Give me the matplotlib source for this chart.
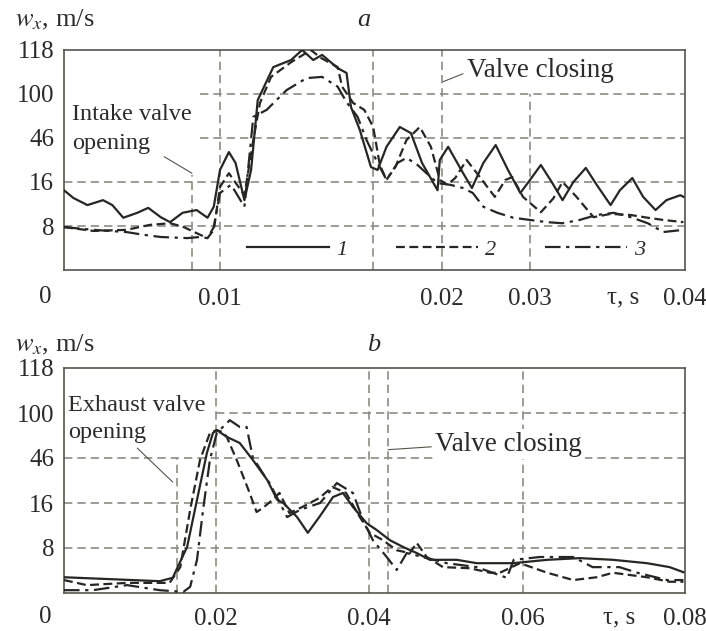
import matplotlib
matplotlib.use('Agg')
import matplotlib.pyplot as plt
from matplotlib.ticker import NullLocator
import numpy as np

plt.rcParams.update({
    'font.family': ['Liberation Serif', 'DejaVu Serif'],
    'mathtext.fontset': 'stix',
    'text.color': '#2b2b2b',
    'xtick.color': '#2b2b2b',
    'ytick.color': '#2b2b2b',
})

# axis ticks (the original uses a non-uniform graduation)
w_ticks = [0, 8, 16, 46, 100, 118]
t_ticks_a = [0, 0.01, 0.02, 0.03, 0.04]
t_ticks_b = [0, 0.02, 0.04, 0.06, 0.08]

# ---- panel a: intake ----
t_a1 = [0, 0.0006, 0.0015, 0.0025, 0.0031, 0.0038, 0.0047, 0.0054, 0.0062, 0.0068, 0.0076, 0.0085,
        0.0092, 0.0096, 0.01, 0.0104, 0.0107, 0.0111, 0.0114, 0.0117, 0.0124, 0.0132, 0.0137, 0.0142,
        0.0146, 0.0153, 0.0157, 0.0159, 0.0163, 0.0168, 0.0171, 0.0175, 0.0181, 0.0186, 0.0191, 0.0198,
        0.0199, 0.0207, 0.0224, 0.0234, 0.0247, 0.0261, 0.0275, 0.0289, 0.03, 0.0307, 0.0314, 0.0321,
        0.0328, 0.0336, 0.0343, 0.0352, 0.0358, 0.0366, 0.0373, 0.0381, 0.0388, 0.0397, 0.0399]
w_a1 = [14.5, 13.1, 11.8, 12.7, 11.8, 9.5, 10.4, 11.3, 9.6, 8.7, 10.4, 10.9,
        9.5, 11.5, 24.2, 36.4, 29, 12.7, 24.2, 92.5, 111, 113.9, 118, 113.9,
        116, 110.6, 108.6, 84, 55.7, 26.2, 24.2, 40, 59.5, 52, 29, 14.5,
        31, 40, 22, 14.9, 29, 41.2, 24.2, 14, 17.4, 27.6, 16, 12.7,
        16, 25.6, 15.5, 11.8, 14.5, 18.7, 13.3, 10.9, 12.7, 13.6, 13.3]

t_a2 = [0, 0.0019, 0.004, 0.0055, 0.0068, 0.0076, 0.0085, 0.0092, 0.0096, 0.01, 0.0104, 0.0111,
        0.0115, 0.0118, 0.0123, 0.0132, 0.0141, 0.0145, 0.0153, 0.0155, 0.016, 0.0165, 0.0169, 0.0172,
        0.0175, 0.0179, 0.0184, 0.019, 0.0195, 0.0199, 0.0206, 0.0215, 0.0228, 0.0243, 0.026, 0.0272,
        0.028, 0.0292, 0.0307, 0.0315, 0.0321, 0.033, 0.0341, 0.0352, 0.0365, 0.0376, 0.0386, 0.0399]
w_a2 = [7.8, 7.1, 7.3, 8.2, 8.5, 7.9, 6.7, 5.8, 7.3, 15.1, 22, 13.6,
        44.6, 89, 107, 113, 118, 115, 111, 103, 89, 80.5, 59.5, 27.6,
        17.5, 26.2, 44.6, 59.5, 40, 17.5, 15.5, 18.7, 31, 19.4, 13.3, 17.4,
        19.4, 13.3, 10.5, 13, 16, 13.3, 9.6, 10.2, 10, 9.5, 9.1, 8.7]

t_a3 = [0, 0.0019, 0.004, 0.0051, 0.0062, 0.0079, 0.0087, 0.0092, 0.0096, 0.01, 0.0105, 0.0111,
        0.0115, 0.0121, 0.013, 0.0139, 0.0146, 0.0153, 0.0157, 0.0162, 0.0166, 0.0171, 0.0175, 0.018,
        0.0184, 0.0189, 0.0193, 0.0198, 0.0209, 0.0224, 0.0235, 0.0247, 0.0263, 0.0281, 0.03, 0.0311,
        0.0321, 0.0332, 0.0343, 0.0354, 0.0365, 0.0376, 0.0386, 0.0399]
w_a3 = [7.8, 7.3, 6.9, 6.4, 6.0, 5.8, 6.0, 5.8, 7.8, 14, 15.5, 11.5,
        71.9, 80.5, 101.6, 106.5, 107, 103, 90, 71.9, 44.6, 29, 17.5, 29,
        32.5, 27.6, 22, 15.8, 15.5, 14.9, 14.0, 11.5, 10.4, 9.5, 9.1, 8.7,
        8.5, 9.1, 10, 10.4, 9.6, 8.5, 6.9, 7.3]

# ---- panel b: exhaust ----
t_b1 = [0, 0.0126, 0.0143, 0.0162, 0.0175, 0.0188, 0.0196, 0.0201, 0.0214, 0.0231, 0.0248, 0.0267,
        0.028, 0.0288, 0.0306, 0.032, 0.0335, 0.0353, 0.0366, 0.0379, 0.0397, 0.041, 0.0427, 0.0444,
        0.0462, 0.0479, 0.0514, 0.054, 0.0587, 0.063, 0.067, 0.0711, 0.0753, 0.0781, 0.0798]
w_b1 = [2.8, 2.1, 2.7, 8.2, 18.1, 52, 76, 79.5, 71.4, 64, 44.8, 31.3,
        18.1, 16, 13.5, 10.7, 13.5, 20, 22.7, 15.3, 12.4, 11.2, 9.4, 8.2,
        7.1, 5.9, 5.9, 5.3, 5.3, 5.9, 6.2, 5.9, 5.3, 4.6, 3.7]

t_b2 = [0, 0.003, 0.0083, 0.0139, 0.0153, 0.0166, 0.0179, 0.0192, 0.0201, 0.0209, 0.0214, 0.0227,
        0.0244, 0.0253, 0.0261, 0.0274, 0.0283, 0.0296, 0.0313, 0.0335, 0.0352, 0.037, 0.0388, 0.0401,
        0.0418, 0.0436, 0.0453, 0.0462, 0.0475, 0.0496, 0.0531, 0.0557, 0.057, 0.0596, 0.063, 0.0662,
        0.0691, 0.0711, 0.0753, 0.0781, 0.0798]
w_b2 = [2.3, 1.4, 1.8, 1.8, 4.6, 14.8, 44.8, 76, 79.5, 77, 71.4, 44.8,
        22.7, 14.4, 15.1, 18.1, 22.7, 14.2, 15.3, 19.3, 26.7, 22.7, 13.5, 10.7,
        9.4, 7.6, 7.1, 8.9, 6.4, 4.6, 4.4, 3.6, 3.6, 5.3, 3.6, 2.3,
        2.8, 3.6, 2.8, 2.0, 2.0]

t_b3 = [0, 0.0038, 0.0083, 0.0126, 0.0157, 0.0166, 0.0175, 0.0183, 0.0192, 0.0201, 0.0218, 0.0231,
        0.024, 0.0248, 0.0261, 0.027, 0.0293, 0.031, 0.0336, 0.0358, 0.0379, 0.0392, 0.0405, 0.0423,
        0.0436, 0.0449, 0.047, 0.0501, 0.054, 0.0579, 0.0588, 0.0621, 0.0662, 0.0686, 0.0719, 0.0741,
        0.0778, 0.0798]
w_b3 = [0.5, 0.5, 1.4, 0.5, 0.2, 1.1, 5.9, 14.8, 44.8, 76, 91.4, 83.3,
        83.3, 47, 36, 29.3, 13.5, 14.8, 16, 29.3, 22.7, 13, 9.4, 6.4,
        4.1, 7.1, 6.4, 5.3, 4.6, 2.7, 5.9, 6.4, 6.4, 4.6, 4.6, 3.6,
        2.3, 2.3]

series_labels = ['1', '2', '3']


def piecewise(ticks, pos):
    def fwd(v):
        return np.interp(np.asarray(v, dtype=float), ticks, pos)

    def inv(p):
        return np.interp(np.asarray(p, dtype=float), pos, ticks)
    return fwd, inv


LINE = '#262622'
GRID = '#8c8c84'
styles = [dict(ls='-'), dict(ls=(0, (4, 2))), dict(ls=(0, (7, 2.5, 1.5, 2.5)))]
grid_kw = dict(colors=GRID, linestyles=(0, (5, 3)), linewidth=1.2, zorder=1)


def setup(ax, t_ticks, t_pos, tpad):
    ax.set_xscale('function', functions=piecewise(t_ticks, t_pos))
    ax.set_yscale('function', functions=piecewise(w_ticks, [0, 1, 2, 3, 4, 5]))
    ax.set_xlim(t_ticks[0], t_ticks[-1])
    ax.set_ylim(w_ticks[0], w_ticks[-1])
    ax.set_xticks(t_ticks[1:])
    ax.set_xticklabels([f'{v:g}' for v in t_ticks[1:]])
    ax.set_yticks(w_ticks[1:])
    ax.set_yticklabels([str(v) for v in w_ticks[1:]])
    ax.xaxis.set_minor_locator(NullLocator())
    ax.yaxis.set_minor_locator(NullLocator())
    ax.tick_params(axis='x', length=0, pad=tpad, labelsize=18)
    ax.tick_params(axis='y', length=0, pad=7, labelsize=18)
    for s in ax.spines.values():
        s.set_color('#55554f')
        s.set_linewidth(1.2)


fig = plt.figure(figsize=(7.06, 6.31), dpi=100)
W, H = 706, 631


def px_axes(l, t, r, b):
    return fig.add_axes([l / W, 1 - b / H, (r - l) / W, (b - t) / H])


# ================= panel a =================
ax1 = px_axes(64, 50, 685, 270)
setup(ax1, t_ticks_a, [0, 156, 378, 466, 621], 13)

ax1.hlines([100, 46], 0.0087, 0.04, **grid_kw)
ax1.hlines([16, 8], 0, 0.04, **grid_kw)
ax1.vlines(0.0082, 0, 21, **grid_kw)
ax1.vlines([0.01, 0.0169, 0.02], 0, 118, **grid_kw)
ax1.vlines(0.03, 0, 100, **grid_kw)

for t, w, st, lab in zip([t_a1, t_a2, t_a3], [w_a1, w_a2, w_a3], styles, series_labels):
    ax1.plot(t, w, color=LINE, lw=1.6, label=lab, zorder=3, solid_joinstyle='round', **st)

leg = ax1.legend(loc='center left', bbox_to_anchor=(0.295, 0.091), ncol=3, frameon=False,
                 handlelength=3.7, handletextpad=0.3, columnspacing=2.2, borderpad=0,
                 borderaxespad=0, prop={'family': 'Liberation Serif', 'style': 'italic', 'size': 16})

ax1.annotate('Intake valve\nopening', xy=(0.0082, 22), xytext=(0.013, 0.755),
             textcoords='axes fraction', ha='left', va='top', fontsize=17.5, linespacing=1.5,
             arrowprops=dict(arrowstyle='-', color='#55554f', lw=0.8, relpos=(0.66, 0.1),
                             shrinkA=0, shrinkB=0))
ax1.annotate('Valve closing', xy=(0.0201, 105), xytext=(0.649, 0.905),
             textcoords='axes fraction', ha='left', va='center', fontsize=19.5,
             arrowprops=dict(arrowstyle='-', color='#55554f', lw=0.8, relpos=(0, 0.45),
                             shrinkA=1, shrinkB=0))
ax1.text(0.874, -0.123, 'τ, s', transform=ax1.transAxes, ha='left', va='center', fontsize=18)

# ================= panel b =================
ax2 = px_axes(64, 368, 685, 593)
setup(ax2, t_ticks_b, [0, 152, 305, 459, 621], 11)

ax2.hlines(100, 0.02, 0.08, **grid_kw)
ax2.hlines([46, 16, 8], 0, 0.08, **grid_kw)
ax2.vlines(0.0149, 0, 46, **grid_kw)
ax2.vlines([0.02, 0.04, 0.0425, 0.06], 0, 118, **grid_kw)

for t, w, st, lab in zip([t_b1, t_b2, t_b3], [w_b1, w_b2, w_b3], styles, series_labels):
    ax2.plot(t, w, color=LINE, lw=1.6, label=lab, zorder=3, solid_joinstyle='round', **st)

ax2.annotate('Exhaust valve\nopening', xy=(0.0143, 30), xytext=(0.006, 0.88),
             textcoords='axes fraction', ha='left', va='top', fontsize=17.5, linespacing=1.4,
             arrowprops=dict(arrowstyle='-', color='#55554f', lw=0.8, relpos=(0.47, 0.0),
                             shrinkA=2, shrinkB=0))
ax2.annotate('Valve closing', xy=(0.0425, 56), xytext=(0.598, 0.662),
             textcoords='axes fraction', ha='left', va='center', fontsize=19.5,
             bbox=dict(boxstyle='square,pad=0.1', fc='white', ec='none'),
             arrowprops=dict(arrowstyle='-', color='#55554f', lw=0.8, relpos=(0, 0.4),
                             shrinkA=1, shrinkB=0))
ax2.text(0.868, -0.107, 'τ, s', transform=ax2.transAxes, ha='left', va='center', fontsize=18)

# labels outside the axes
for y_w, y_0, y_lab, lab, x_lab in [(20, 297, 20, 'a', 357), (345, 617, 345, 'b', 367)]:
    fig.text(15 / W, 1 - y_w / H, r'$w_x$, m/s', ha='left', va='center', fontsize=19)
    fig.text(45 / W, 1 - y_0 / H, '0', ha='center', va='center', fontsize=18)
    fig.text(x_lab / W, 1 - y_lab / H, lab, ha='left', va='center', fontsize=19, style='italic')

fig.savefig('out.png', dpi=100, facecolor='white')
